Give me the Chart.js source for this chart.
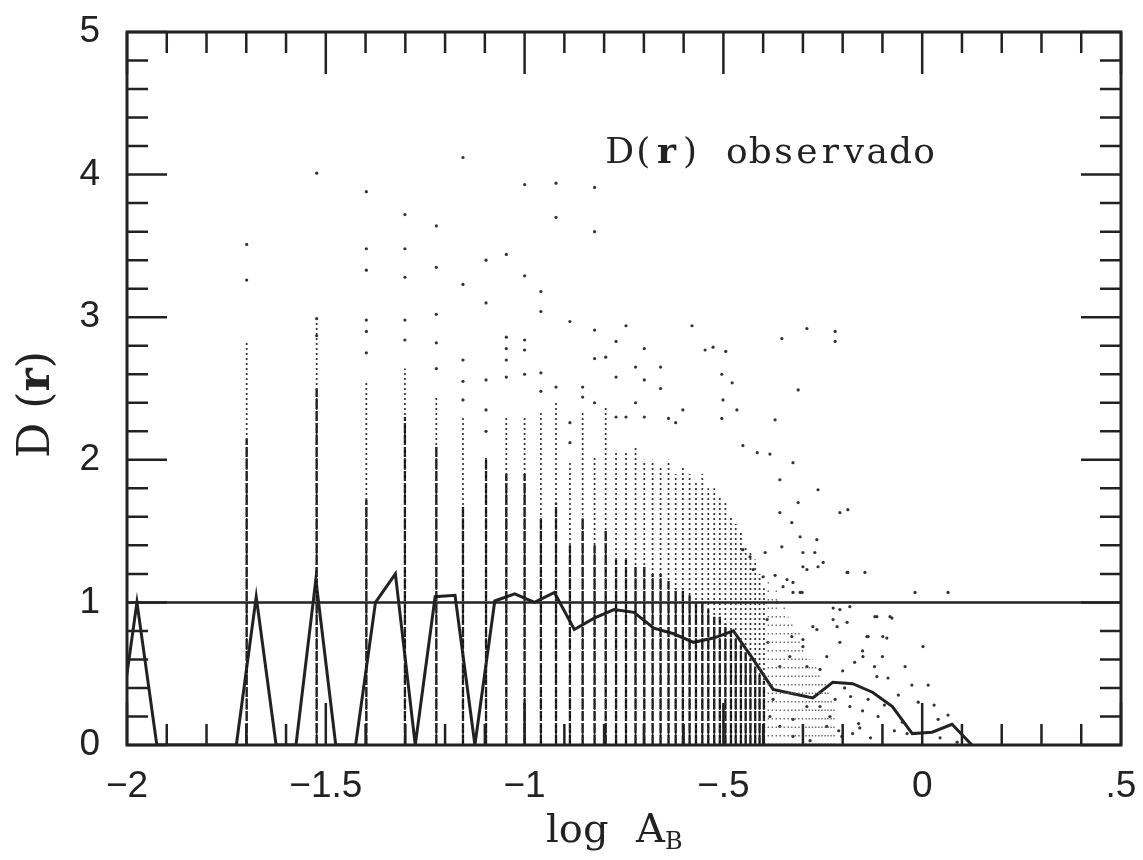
<!DOCTYPE html>
<html>
<head>
<meta charset="utf-8">
<script src="https://cdn.jsdelivr.net/npm/chart.js@4.4.1/dist/chart.umd.min.js"></script>
<style>
  html, body { margin: 0; padding: 0; background: #fff; }
  #wrap { position: relative; width: 1143px; height: 860px; }
</style>
</head>
<body>
<div id="wrap"><canvas id="chart"></canvas></div>
<script>
// D(r) curve, one value per 0.05 bin of log A_B
const binX = [-2.025, -1.975, -1.925, -1.875, -1.825, -1.775, -1.725, -1.675, -1.625, -1.575,
  -1.525, -1.475, -1.425, -1.375, -1.325, -1.275, -1.225, -1.175, -1.125, -1.075,
  -1.025, -0.975, -0.925, -0.875, -0.825, -0.775, -0.725, -0.675, -0.625, -0.575,
  -0.525, -0.475, -0.425, -0.375, -0.325, -0.275, -0.225, -0.175, -0.125, -0.075,
  -0.025, 0.025, 0.075, 0.125];
const binD = [0, 1.0, 0, 0, 0, 0, 0, 1.04, 0, 0,
  1.16, 0, 0, 1.0, 1.2, 0, 1.04, 1.05, 0, 1.01,
  1.06, 1.0, 1.07, 0.81, 0.89, 0.95, 0.93, 0.82, 0.78, 0.72,
  0.75, 0.80, 0.60, 0.39, 0.36, 0.33, 0.44, 0.43, 0.37, 0.27,
  0.08, 0.09, 0.145, 0];

// reference level D = 1
const refLevel = 1;

// vertical streaks of observed points (discrete amplitudes)
const colX = [-1.699, -1.523, -1.398, -1.301, -1.222, -1.155, -1.097, -1.046, -1.000, -0.959,
  -0.921, -0.886, -0.854, -0.824, -0.796, -0.770, -0.745, -0.721, -0.699, -0.678,
  -0.658, -0.638, -0.620, -0.602, -0.585, -0.569, -0.553, -0.538, -0.523, -0.509,
  -0.495, -0.481, -0.469, -0.456, -0.444, -0.432, -0.420, -0.409, -0.398];
const colTop = [2.84, 2.96, 2.56, 2.64, 2.44, 2.30, 2.03, 2.30, 2.30, 2.35,
  2.40, 1.98, 2.35, 2.02, 2.37, 2.07, 2.05, 2.10, 2.00, 2.00,
  1.95, 2.00, 1.90, 1.95, 1.90, 1.85, 1.90, 1.80, 1.80, 1.75,
  1.70, 1.60, 1.55, 1.50, 1.40, 1.35, 1.30, 1.20, 1.10];
const colDense = [2.15, 2.50, 1.72, 2.30, 2.09, 1.67, 2.00, 1.90, 1.90, 1.60,
  1.70, 1.40, 1.60, 1.40, 1.50, 1.30, 1.30, 1.25, 1.25, 1.20,
  1.20, 1.15, 1.10, 1.10, 1.05, 1.00, 1.00, 0.95, 0.90, 0.90,
  0.85, 0.80, 0.75, 0.70, 0.65, 0.60, 0.55, 0.50, 0.45];

// sparse streaks where the cloud thins out
const faintX = [-0.387, -0.377, -0.367, -0.357, -0.347, -0.337, -0.328, -0.319, -0.310, -0.301,
  -0.292, -0.284, -0.276, -0.268, -0.260, -0.252, -0.244, -0.237, -0.229, -0.222];
const faintTop = [1.15, 1.05, 1.10, 0.95, 1.00, 0.90, 0.85, 0.80, 0.80, 0.70,
  0.65, 0.60, 0.60, 0.55, 0.50, 0.45, 0.45, 0.40, 0.35, 0.30];

// isolated points
const ptX = [-1.699, -1.699, -1.523, -1.523, -1.523,
  -1.398, -1.398, -1.398, -1.398, -1.398, -1.398,
  -1.301, -1.301, -1.301, -1.301, -1.301,
  -1.222, -1.222, -1.222, -1.222, -1.222,
  -1.155, -1.155, -1.155, -1.155, -1.155,
  -1.097, -1.097, -1.097, -1.097, -1.097,
  -1.046, -1.046, -1.046, -1.046, -1.046,
  -1.000, -1.000, -1.000, -1.000, -1.000,
  -0.959, -0.959, -0.959, -0.959,
  -0.921, -0.921, -0.921,
  -0.886, -0.886, -0.886,
  -0.854, -0.854,
  -0.824, -0.824, -0.824, -0.824, -0.824,
  -0.796, -0.770, -0.770, -0.770, -0.745, -0.745, -0.721, -0.721,
  -0.699, -0.699, -0.699, -0.658, -0.658, -0.638, -0.620, -0.602,
  -0.579, -0.546, -0.526, -0.494, -0.504, -0.478, -0.501, -0.466, -0.504,
  -0.353, -0.290, -0.219, -0.219, -0.312, -0.370, -0.451, -0.415, -0.383, -0.325,
  -0.358, -0.262, -0.312, -0.207, -0.187, -0.358, -0.328, -0.307, -0.265, -0.353,
  -0.300, -0.270, -0.249, -0.290, -0.187, -0.144, -0.451, -0.433, -0.395, -0.425,
  -0.400, -0.370, -0.350, -0.325, -0.325, -0.302, -0.224, -0.207, -0.182, -0.119,
  -0.081, -0.224, -0.265, -0.139, -0.099, -0.300,
  -0.018, 0.065, -0.189, -0.114, -0.076, -0.136, -0.089, 0.002, -0.043, -0.149,
  -0.114, -0.086, -0.026, 0.015, -0.136, -0.111, -0.157, -0.038, 0.065, 0.088,
  -0.202, -0.232, -0.257, -0.219, -0.182, -0.325, -0.358, -0.325, -0.282, -0.240,
  -0.207, -0.189, -0.214, -0.240, -0.275, -0.300, -0.328, -0.333, -0.358, -0.290,
  -0.257, -0.388, -0.390, -0.365, -0.307, -0.340, -0.300, -0.262, -0.375, -0.383, -0.290,
  -0.200, -0.170, -0.150, -0.195, -0.160, -0.120, -0.100, -0.060, -0.050, -0.010,
  0.030, 0.045, -0.210, -0.175, -0.130, -0.070, -0.180, -0.150, -0.095, 0.040];
const ptY = [3.51, 3.26, 4.01, 2.99, 2.87,
  3.88, 3.48, 3.33, 2.98, 2.90, 2.75,
  3.72, 3.48, 3.28, 2.98, 2.84,
  3.64, 3.35, 3.02, 2.82, 2.64,
  4.12, 3.23, 2.70, 2.55, 2.42,
  3.40, 3.10, 2.56, 2.35, 2.20,
  3.44, 2.86, 2.78, 2.70, 2.58,
  3.93, 3.29, 2.84, 2.77, 2.60,
  3.18, 3.04, 2.61, 2.48,
  3.94, 3.70, 2.51,
  2.97, 2.26, 2.12,
  2.51, 2.44,
  3.91, 3.60, 2.91, 2.71, 2.40,
  2.72, 2.83, 2.58, 2.30, 2.94, 2.30, 2.65, 2.40,
  2.78, 2.56, 2.30, 2.65, 2.50, 2.29, 2.26, 2.35,
  2.94, 2.77, 2.79, 2.76, 2.60, 2.54, 2.42, 2.35, 2.29,
  2.85, 2.92, 2.90, 2.83, 2.49, 2.28, 2.10, 2.05, 2.04, 1.98,
  1.86, 1.79, 1.70, 1.63, 1.65, 1.63, 1.56, 1.46, 1.44, 1.39,
  1.35, 1.35, 1.28, 1.23, 1.21, 1.21, 1.37, 1.32, 1.35, 1.23,
  1.18, 1.19, 1.11, 1.14, 1.07, 1.07, 0.96, 0.95, 0.97, 0.90,
  0.90, 0.88, 0.81, 0.76, 0.76, 0.74,
  1.07, 1.07, 1.21, 0.90, 0.89, 0.76, 0.75, 0.69, 0.55, 0.62,
  0.48, 0.47, 0.42, 0.42, 0.32, 0.20, 0.12, 0.08, 0.21, 0.02,
  0.06, 0.20, 0.27, 0.32, 0.27, 0.18, 0.13, 0.06, 0.03, 0.13,
  0.72, 0.86, 0.83, 0.62, 0.83, 0.69, 0.76, 0.62, 0.55, 0.55,
  0.53, 0.72, 0.88, 1.00, 1.07, 1.16, 1.25, 1.25, 0.32, 0.20, 0.27,
  0.52, 0.58, 0.66, 0.40, 0.15, 0.55, 0.62, 0.35, 0.16, 0.30,
  0.28, 0.05, 0.10, 0.08, 0.05, 0.10, 0.34, 0.24, 0.28, 0.18];

// axis range and tick labels
const xMin = -2, xMax = 0.5, xMajor = 0.5, xMinor = 0.1;
const yMin = 0, yMax = 5, yMajor = 1, yMinor = 0.2;
const xTitle = ['log', 'A', 'B'];
const yTitle = ['D (', 'r', ')'];
const note = 'D(r) observado';
const noteBold = 2;          // index of the bold "r"
const notePos = { x: -0.79, y: 4.08 };

const ink = '#222';

function fmtX(v) {
  const r = Math.round(v * 10) / 10;
  if (r === 0) return '0';
  let s = Math.abs(r).toString();
  if (s.startsWith('0.')) s = s.slice(1);
  return (r < 0 ? '\u2212' : '') + s;
}

function streak(xs, tops) {
  const out = [];
  xs.forEach((x, i) => {
    out.push({ x: x, y: 0 }, { x: x, y: tops[i] }, { x: x, y: null });
  });
  return out;
}

const framePlugin = {
  id: 'frame',
  afterDatasetsDraw(chart) {
    const { ctx, chartArea: a, scales } = chart;
    const xs = scales.x, ys = scales.y;
    ctx.save();
    ctx.strokeStyle = ink;
    ctx.lineCap = 'butt';
    ctx.lineWidth = 2.5;
    // inside ticks on all four sides
    const nx = Math.round((xMax - xMin) / xMinor);
    for (let k = 0; k <= nx; k++) {
      const v = xMin + k * xMinor;
      const px = xs.getPixelForValue(v);
      const len = k % Math.round(xMajor / xMinor) === 0 ? 42 : 21;
      ctx.beginPath();
      ctx.moveTo(px, a.bottom); ctx.lineTo(px, a.bottom - len);
      ctx.moveTo(px, a.top); ctx.lineTo(px, a.top + len);
      ctx.stroke();
    }
    const ny = Math.round((yMax - yMin) / yMinor);
    for (let k = 0; k <= ny; k++) {
      const v = yMin + k * yMinor;
      const py = ys.getPixelForValue(v);
      const len = k % Math.round(yMajor / yMinor) === 0 ? 40 : 21;
      ctx.beginPath();
      ctx.moveTo(a.left, py); ctx.lineTo(a.left + len, py);
      ctx.moveTo(a.right, py); ctx.lineTo(a.right - len, py);
      ctx.stroke();
    }
    ctx.lineWidth = 3;
    ctx.strokeRect(a.left, a.top, a.right - a.left, a.bottom - a.top);
    ctx.restore();
  },
  afterDraw(chart) {
    const { ctx, chartArea: a, scales } = chart;
    ctx.save();
    ctx.fillStyle = ink;
    ctx.textBaseline = 'alphabetic';

    // annotation, typewriter spacing
    const x0 = scales.x.getPixelForValue(notePos.x);
    const y0 = scales.y.getPixelForValue(notePos.y);
    const cell = 23.4;
    ctx.textAlign = 'center';
    for (let i = 0; i < note.length; i++) {
      ctx.font = (i === noteBold ? 'bold ' : '') + '36px "DejaVu Serif"';
      ctx.fillText(note[i], x0 + cell * (i + 0.5), y0);
    }

    // x title with subscript
    ctx.textAlign = 'left';
    ctx.font = '40px "DejaVu Serif"';
    ctx.fillText(xTitle[0], 546, 842);
    ctx.fillText(xTitle[1], 636, 842);
    ctx.font = '24px "DejaVu Serif"';
    ctx.fillText(xTitle[2], 665, 849);

    // y title, rotated
    ctx.translate(a.left - 89, (a.top + a.bottom) / 2 + 16);
    ctx.rotate(-Math.PI / 2);
    ctx.textBaseline = 'middle';
    let w = 0;
    yTitle.forEach((s, i) => {
      ctx.font = (i === 1 ? 'bold ' : '') + '44px "DejaVu Serif"';
      w += ctx.measureText(s).width;
    });
    let tx = -w / 2;
    yTitle.forEach((s, i) => {
      ctx.font = (i === 1 ? 'bold ' : '') + '44px "DejaVu Serif"';
      ctx.fillText(s, tx, 0);
      tx += ctx.measureText(s).width;
    });
    ctx.restore();
  }
};

new Chart(document.getElementById('chart'), {
  type: 'scatter',
  data: {
    datasets: [
      {
        label: 'streak upper',
        data: streak(colX, colTop),
        showLine: true,
        borderColor: '#333',
        borderWidth: 1.7,
        borderDash: [2, 3],
        pointRadius: 0,
        spanGaps: false
      },
      {
        label: 'streak lower',
        data: streak(colX, colDense),
        showLine: true,
        borderColor: '#151515',
        borderWidth: 2.3,
        borderDash: [10, 2],
        pointRadius: 0,
        spanGaps: false
      },
      {
        label: 'streak faint',
        data: streak(faintX, faintTop),
        showLine: true,
        borderColor: '#666',
        borderWidth: 1.4,
        borderDash: [1.5, 7],
        pointRadius: 0,
        spanGaps: false
      },
      {
        label: 'points',
        data: ptX.map((x, i) => ({ x: x, y: ptY[i] })),
        pointRadius: 1.6,
        pointBackgroundColor: '#333',
        pointBorderWidth: 0
      },
      {
        label: 'D = 1',
        data: [{ x: xMin, y: refLevel }, { x: xMax, y: refLevel }],
        showLine: true,
        borderColor: ink,
        borderWidth: 2.5,
        pointRadius: 0
      },
      {
        label: 'D(r) observado',
        data: binX.map((x, i) => ({ x: x, y: binD[i] })),
        showLine: true,
        borderColor: ink,
        borderWidth: 3,
        pointRadius: 0,
        tension: 0
      }
    ]
  },
  options: {
    responsive: true,
    maintainAspectRatio: false,
    animation: false,
    devicePixelRatio: 1,
    layout: { padding: { top: 32, right: 22, left: 0, bottom: 0 } },
    plugins: {
      legend: { display: false },
      tooltip: { enabled: false }
    },
    scales: {
      x: {
        type: 'linear',
        min: xMin,
        max: xMax,
        grid: { display: false },
        border: { display: false },
        ticks: {
          stepSize: xMajor,
          autoSkip: false,
          maxRotation: 0,
          padding: 12,
          color: ink,
          font: { family: 'Liberation Sans', size: 37 },
          callback: (v) => fmtX(v)
        },
        afterFit(scale) {
          scale.height = 115;
          scale.paddingLeft = 0;
          scale.paddingRight = 0;
        }
      },
      y: {
        type: 'linear',
        min: yMin,
        max: yMax,
        grid: { display: false },
        border: { display: false },
        ticks: {
          stepSize: yMajor,
          padding: 19,
          color: ink,
          font: { family: 'Liberation Sans', size: 37 }
        },
        afterFit(scale) {
          scale.width = 127;
          scale.paddingTop = 0;
          scale.paddingBottom = 0;
        }
      }
    }
  },
  plugins: [framePlugin]
});
</script>
</body>
</html>
